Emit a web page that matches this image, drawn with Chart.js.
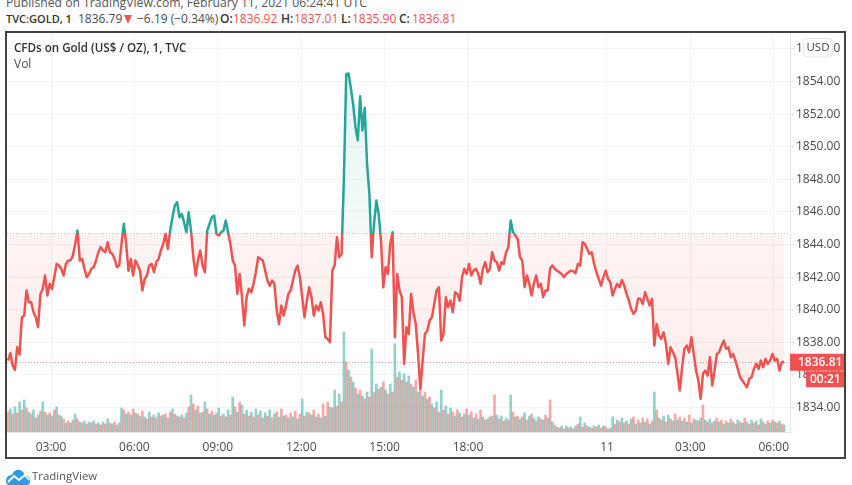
<!DOCTYPE html>
<html><head><meta charset="utf-8">
<style>
html,body{margin:0;padding:0;width:852px;height:485px;background:#fff;overflow:hidden;font-family:"Open Sans",sans-serif}
canvas{position:absolute;left:0;top:0}
.t{position:absolute;white-space:nowrap;font-size:12px;line-height:16px;color:#4a4a4a}
.b{font-weight:600;color:#333}
.r{color:#ef5350}
#frame{position:absolute;left:5px;top:31px;width:841px;height:428px;border:2px solid #444;box-sizing:border-box;pointer-events:none}
#tri{position:absolute;left:124px;top:15px;width:0;height:0;border-left:4.5px solid transparent;border-right:4.5px solid transparent;border-top:9px solid #ef5350}
</style>
<script src="https://cdn.jsdelivr.net/npm/chart.js@4/dist/chart.umd.min.js"></script>
</head><body>
<div class="t" style="left:6px;top:-5px;font-size:12.2px;color:#555">Published on TradingView.com, February 11, 2021 06:24:41 UTC</div>
<div class="t b" style="left:6px;top:11px;font-size:11px">TVC:GOLD, 1</div>
<div class="t" style="left:78px;top:11px">1836.79</div>
<div id="tri"></div>
<div class="t" style="left:137px;top:11px">−6.19 (−0.34%)</div>
<div class="t b" style="left:220px;top:11px">O:</div><div class="t r" style="left:233px;top:11px">1836.92</div>
<div class="t b" style="left:281px;top:11px">H:</div><div class="t r" style="left:294px;top:11px">1837.01</div>
<div class="t b" style="left:341px;top:11px">L:</div><div class="t r" style="left:352px;top:11px">1835.90</div>
<div class="t b" style="left:399px;top:11px">C:</div><div class="t r" style="left:412px;top:11px">1836.81</div>
<canvas id="c" width="852" height="485" style="width:852px;height:485px"></canvas>
<div id="frame"></div>
<div class="t b" style="left:14px;top:40px;font-size:11.6px">CFDs on Gold (US$ / OZ), 1, TVC</div>
<div class="t" style="left:14px;top:56px;font-size:12px">Vol</div>
<svg style="position:absolute;left:5px;top:468px" width="26" height="17" viewBox="0 0 26 17">
<path d="M1 13 C1 9 4 7 7 7 C8 3 12 1 15 2 C18 3 19 5 20 7 C23 7 25 10 25 13 C25 15 24 17 22 17 L4 17 C2 17 1 15 1 13Z" fill="#2c9be8"/>
<path d="M3 14 L9 8 L14 12 L20 7 L24 12" fill="none" stroke="#fff" stroke-width="2"/>
</svg>
<div class="t" style="left:32px;top:468px;font-size:11.4px;color:#555">TradingView</div>
<script>
const priceTicks=[1834,1836,1838,1840,1842,1844,1846,1848,1850,1852,1854,1856];
const timeTicks=[3,6,9,12,15,18,23,26,29];
const timeLabels=["03:00","06:00","09:00","12:00","15:00","18:00","11","03:00","06:00"];
const baseLine=1844.7;
const lastPrice=1836.81;
const prices=[
1836.88,1837.33,1836.58,1836.31,1837.70,1837.25,1839.54,1839.64,1841.18,1840.46,
1840.46,1839.85,1839.54,1838.93,1840.97,1841.28,1842.10,1840.87,1841.59,1841.28,
1842.00,1842.81,1842.71,1842.51,1842.10,1842.81,1843.02,1843.02,1843.33,1844.04,
1844.86,1843.02,1843.12,1842.51,1842.00,1842.20,1842.51,1842.61,1843.02,1843.53,
1843.84,1843.63,1843.53,1844.14,1843.53,1843.43,1843.12,1842.61,1842.71,1844.04,
1845.27,1844.04,1842.40,1843.12,1842.10,1843.02,1842.71,1842.40,1841.18,1841.89,
1842.10,1842.71,1842.81,1842.30,1842.92,1843.12,1843.63,1844.04,1844.65,1843.73,
1844.86,1845.68,1846.39,1846.60,1845.68,1845.88,1845.37,1844.76,1845.98,1844.86,
1843.22,1842.10,1843.02,1843.63,1842.71,1842.30,1844.86,1845.27,1845.68,1845.78,
1844.65,1844.55,1844.76,1844.86,1845.47,1844.76,1844.04,1843.02,1842.71,1840.97,
1842.20,1840.77,1839.03,1840.77,1841.28,1841.08,1841.59,1842.30,1843.22,1843.12,
1843.02,1842.40,1841.79,1841.48,1841.79,1841.59,1839.95,1839.13,1840.26,1839.64,
1840.26,1840.97,1841.18,1841.79,1842.40,1842.71,1842.00,1840.77,1839.54,1840.56,
1841.38,1840.77,1839.64,1840.26,1839.95,1840.46,1839.75,1838.31,1838.21,1838.01,
1842.40,1842.71,1844.45,1843.22,1843.43,1848.13,1854.45,1854.50,1853.60,1852.60,
1851.20,1850.40,1853.10,1851.00,1852.40,1848.90,1847.11,1843.22,1845.26,1846.70,
1845.88,1844.25,1841.38,1842.61,1842.20,1844.04,1844.76,1838.31,1842.20,1841.18,
1840.77,1836.68,1838.93,1838.52,1840.97,1839.85,1839.13,1837.29,1835.15,1836.88,
1838.52,1838.72,1839.34,1839.54,1840.36,1841.18,1841.38,1838.11,1838.52,1840.77,
1840.16,1840.56,1839.85,1841.08,1840.97,1840.56,1842.00,1842.51,1842.20,1842.81,
1842.10,1842.40,1842.51,1842.20,1841.59,1842.51,1842.92,1842.30,1842.51,1843.53,
1843.02,1842.92,1842.40,1842.92,1842.81,1843.53,1843.84,1845.47,1844.76,1844.55,
1844.35,1843.22,1843.02,1841.38,1842.10,1841.59,1840.87,1841.59,1842.10,1841.38,
1841.59,1840.77,1841.18,1841.18,1842.51,1842.71,1842.51,1842.40,1842.30,1842.20,
1842.00,1842.20,1842.30,1842.40,1842.36,1842.24,1842.81,1842.71,1844.14,1844.04,
1843.73,1843.43,1843.53,1842.81,1842.30,1841.89,1841.48,1841.99,1842.40,1841.89,
1841.69,1840.87,1841.28,1841.59,1841.38,1841.83,1841.48,1840.97,1840.56,1840.05,
1839.75,1839.95,1840.67,1840.67,1840.36,1841.08,1840.67,1840.26,1840.67,1837.80,
1839.13,1838.42,1838.21,1838.62,1837.91,1836.68,1837.70,1837.39,1837.09,1836.07,
1835.04,1836.47,1837.60,1837.80,1837.39,1838.31,1837.29,1836.27,1835.66,1834.53,
1836.07,1836.27,1835.96,1837.09,1835.35,1836.27,1837.29,1837.39,1837.80,1838.11,
1837.60,1837.70,1837.09,1837.29,1836.88,1836.37,1835.86,1835.66,1835.45,1835.25,
1835.76,1835.86,1836.37,1836.68,1836.37,1836.88,1836.47,1836.99,1836.68,1836.88,
1837.29,1836.88,1836.99,1836.27,1836.78,1836.81];
const volumes=[
20,23,18,25,19,30,22,32,24,20, 18,22,14,17,21,30,20,17,19,16,
22,25,17,16,13,9,11,9,12,18, 13,10,9,11,8,10,9,11,8,9,
7,10,8,13,9,8,10,7,9,24, 22,18,20,17,23,19,18,16,21,15,
13,20,15,17,14,19,16,17,18,14, 20,23,18,16,15,17,14,19,25,37,
28,22,26,19,20,30,23,18,21,17, 19,24,16,18,15,22,17,35,25,20,
30,27,18,22,16,20,15,23,17,21, 14,19,16,22,14,18,20,15,23,16,
17,14,19,15,21,13,18,33,16,20, 19,17,22,15,18,14,28,16,30,25,
24,42,26,38,30,100,70,62,55,50, 44,38,42,36,33,40,35,83,40,48,
43,45,50,42,38,48,40,88,55,60, 52,58,50,56,48,45,52,40,44,36,
40,33,35,28,24,30,20,42,22,26, 18,24,20,16,22,19,15,18,23,17,
20,14,18,13,22,15,12,13,15,16, 37,17,13,16,11,14,12,37,20,15,
16,13,15,19,12,16,18,14,11,15, 13,12,17,14,32,10,7,5,4,6,
3,6,4,5,3,6,8,15,5,9, 6,5,4,6,5,7,4,6,5,3,
4,15,8,12,10,14,9,11,8,13, 15,8,12,9,14,10,13,8,11,40,
22,14,12,16,10,17,13,11,18,12, 15,11,14,10,17,9,13,12,11,14,
27,12,10,13,9,11,14,10,12,8, 11,9,13,10,8,12,10,9,14,10,
8,12,9,11,7,13,10,8,11,9, 12,10,9,11,8,7];
const startHour=1.453, stepHour=1/12;
const sampleHour=i=>startHour+i*stepHour;
const TEAL='#26a69a', RED='#ef5350';

const overlay={id:'overlay',
 beforeDatasetsDraw(c){
  const {ctx,chartArea:a,scales:{y}}=c;
  ctx.save();ctx.lineWidth=1;ctx.setLineDash([1,2]);
  ctx.strokeStyle='#c4c4c4';let p=Math.round(y.getPixelForValue(baseLine))+.5;
  ctx.beginPath();ctx.moveTo(a.left,p);ctx.lineTo(a.right,p);ctx.stroke();
  ctx.strokeStyle='rgba(239,83,80,.6)';p=Math.round(y.getPixelForValue(lastPrice))+.5;
  ctx.beginPath();ctx.moveTo(a.left,p);ctx.lineTo(a.right,p);ctx.stroke();
  ctx.restore();
 },
 afterDraw(c){
  const {ctx,scales:{y}}=c;
  const p=y.getPixelForValue(lastPrice);
  ctx.save();
  ctx.fillStyle=RED;ctx.fillRect(790,p-8,55,17);ctx.fillRect(806,p+9.5,39,16);
  ctx.fillStyle='#fff';ctx.font='600 12px "Open Sans"';ctx.textBaseline='middle';ctx.textAlign='left';
  ctx.fillText('1836.81',798,p+.5);ctx.fillText('00:21',810,p+17.5);
  ctx.beginPath();ctx.roundRect(803.5,38.5,29,18.5,4);ctx.fillStyle='#fff';ctx.fill();
  ctx.strokeStyle='#e4e4e4';ctx.stroke();
  ctx.fillStyle='#444';ctx.font='11.5px "Open Sans"';ctx.textAlign='center';ctx.fillText('USD',818,47.5);
  ctx.restore();
 }};

const chart=new Chart(document.getElementById('c'),{
 type:'bar',
 data:{datasets:[
  {type:'line',order:1,yAxisID:'y',data:prices.map((v,i)=>({x:sampleHour(i),y:v})),
   borderWidth:2.5,pointRadius:0,tension:0,borderJoinStyle:'round',borderColor:RED,
   fill:{target:{value:baseLine},above:'rgba(38,166,154,.08)',below:'rgba(239,83,80,.08)'}},
  {type:'bar',order:2,yAxisID:'v',data:volumes.map((v,i)=>({x:sampleHour(i),y:v})),
   barThickness:2,
   backgroundColor:volumes.map((v,i)=>i%2?'rgba(38,166,154,.5)':'rgba(239,83,80,.5)')}
 ]},
 options:{responsive:false,animation:false,devicePixelRatio:1,
  layout:{padding:{left:7,top:33,right:0,bottom:0}},
  plugins:{legend:{display:false},tooltip:{enabled:false}},
  scales:{
   x:{type:'linear',offset:false,min:1.417,max:29.583,
    afterBuildTicks:s=>{s.ticks=timeTicks.map(v=>({value:v}))},
    afterFit:s=>{s.height=53},
    grid:{color:'#f3f3f3',drawTicks:false,offset:false},border:{color:'#e6e6e6'},
    ticks:{autoSkip:false,maxRotation:0,padding:8,color:'#4a4a4a',font:{family:'"Open Sans"',size:12},
     callback:v=>timeLabels[timeTicks.indexOf(v)]}},
   y:{position:'right',min:1832.5,max:1856.98,
    afterBuildTicks:s=>{s.ticks=priceTicks.map(v=>({value:v}))},
    afterFit:s=>{s.width=62},
    grid:{color:'#f3f3f3',tickLength:4,tickColor:'#e0e0e0'},border:{color:'#e6e6e6'},
    ticks:{padding:2,color:'#4a4a4a',font:{family:'"Open Sans"',size:12},callback:v=>v.toFixed(2)}},
   v:{display:false,min:0,max:399}
  }},
 plugins:[overlay]});

const g=chart.ctx, py=v=>chart.scales.y.getPixelForValue(v), b=py(baseLine);
const line=g.createLinearGradient(0,0,0,485);
const stop=b/485;
line.addColorStop(0,TEAL);line.addColorStop(stop,TEAL);line.addColorStop(stop,RED);line.addColorStop(1,RED);
const above=g.createLinearGradient(0,py(1855),0,b);
above.addColorStop(0,'rgba(38,166,154,.13)');above.addColorStop(1,'rgba(38,166,154,.05)');
const below=g.createLinearGradient(0,b,0,py(1834.5));
below.addColorStop(0,'rgba(239,83,80,.07)');below.addColorStop(1,'rgba(239,83,80,.1)');
const d=chart.data.datasets[0];
d.borderColor=line;d.fill={target:{value:baseLine},above,below};
chart.update('none');
</script>
</body></html>
